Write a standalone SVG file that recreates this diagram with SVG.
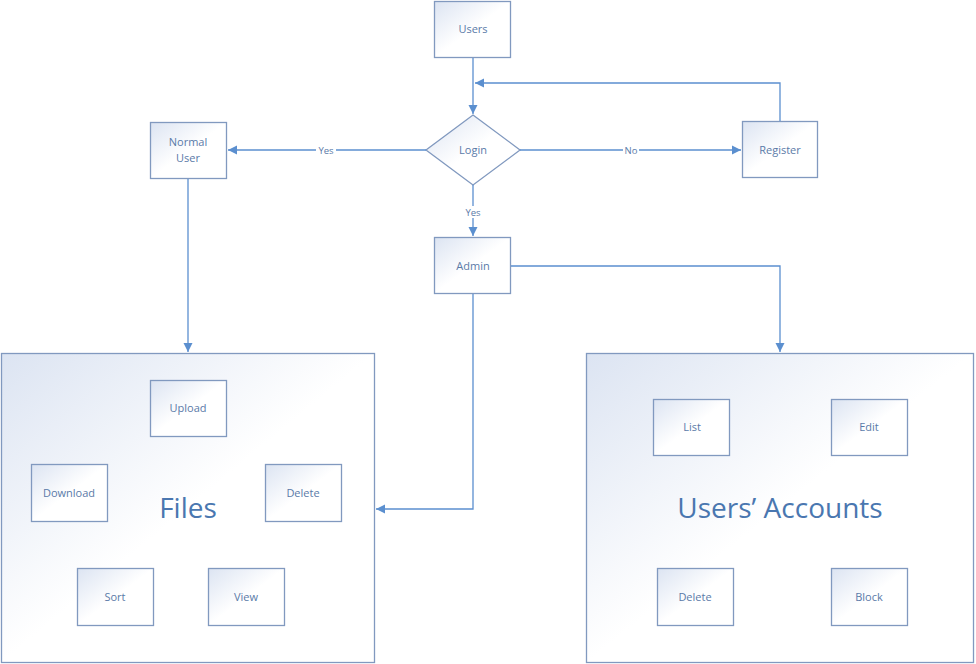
<svg xmlns="http://www.w3.org/2000/svg" width="976" height="664" viewBox="0 0 976 664">
<defs>
<linearGradient id="g" x1="0" y1="0" x2="1" y2="1">
<stop offset="0" stop-color="#dce4f2"/>
<stop offset="0.5" stop-color="#ffffff"/>
<stop offset="1" stop-color="#ffffff"/>
</linearGradient>
<marker id="a" markerWidth="10" markerHeight="10" refX="9" refY="5" orient="auto" markerUnits="userSpaceOnUse">
<path d="M0,0.5 L9,5 L0,9.5 Z" fill="#5b8fcf"/>
</marker>
<style>
.box{fill:url(#g);stroke:#8199bf;stroke-width:1.3}
.t{font-family:"Open Sans","Liberation Sans",sans-serif;font-size:11px;fill:#5a7aa8;text-anchor:middle}
.big{font-family:"Open Sans","Liberation Sans",sans-serif;font-size:28px;fill:#4a77b0;text-anchor:middle}
.c{fill:none;stroke:#5b8fcf;stroke-width:1.3}
.lbl{font-family:"Open Sans","Liberation Sans",sans-serif;font-size:9.5px;fill:#5a7aa8;text-anchor:middle}
</style>
</defs>
<rect width="976" height="664" fill="#ffffff"/>
<g id="files">
<rect class="box" x="1.5" y="353.5" width="373" height="309"/>
<text class="big" x="188" y="518">Files</text>
</g>
<g id="accounts">
<rect class="box" x="586.5" y="353.5" width="387" height="309"/>
<text class="big" x="780" y="518">Users’ Accounts</text>
</g>
<g id="users"><rect class="box" x="434.5" y="1.5" width="76" height="56"/><text class="t" x="473" y="33">Users</text></g>
<g id="login"><polygon points="473,115 520,150 473,185 426,150" fill="url(#g)" stroke="#8199bf" stroke-width="1.3"/><text class="t" x="473" y="154">Login</text></g>
<g id="register"><rect class="box" x="742.5" y="121.5" width="75" height="56"/><text class="t" x="780" y="154">Register</text></g>
<g id="normal"><rect class="box" x="150.5" y="122.5" width="76" height="56"/><text class="t" x="188" y="146">Normal</text><text class="t" x="188" y="162">User</text></g>
<g id="admin"><rect class="box" x="434.5" y="237.5" width="76" height="56"/><text class="t" x="473" y="270">Admin</text></g>
<g id="upload"><rect class="box" x="150.5" y="380.5" width="76" height="56"/><text class="t" x="188" y="412">Upload</text></g>
<g id="download"><rect class="box" x="31.5" y="464.5" width="76" height="57"/><text class="t" x="69" y="497">Download</text></g>
<g id="fdelete"><rect class="box" x="265.5" y="464.5" width="76" height="57"/><text class="t" x="303" y="497">Delete</text></g>
<g id="sort"><rect class="box" x="77.5" y="568.5" width="76" height="57"/><text class="t" x="115" y="601">Sort</text></g>
<g id="view"><rect class="box" x="208.5" y="568.5" width="76" height="57"/><text class="t" x="246" y="601">View</text></g>
<g id="list"><rect class="box" x="653.5" y="399.5" width="76" height="56"/><text class="t" x="692" y="431">List</text></g>
<g id="edit"><rect class="box" x="831.5" y="399.5" width="76" height="56"/><text class="t" x="869" y="431">Edit</text></g>
<g id="adelete"><rect class="box" x="657.5" y="568.5" width="76" height="57"/><text class="t" x="695" y="601">Delete</text></g>
<g id="block"><rect class="box" x="831.5" y="568.5" width="76" height="57"/><text class="t" x="869" y="601">Block</text></g>
<g id="connectors">
<path class="c" d="M473,58 V114" marker-end="url(#a)"/>
<path class="c" d="M780,121 V83 H475" marker-end="url(#a)"/>
<path class="c" d="M426,150 H228" marker-end="url(#a)"/>
<path class="c" d="M520,150 H741" marker-end="url(#a)"/>
<path class="c" d="M473,185 V236" marker-end="url(#a)"/>
<path class="c" d="M188,179 V352" marker-end="url(#a)"/>
<path class="c" d="M473,294 V509 H376" marker-end="url(#a)"/>
<path class="c" d="M511,266 H780 V352" marker-end="url(#a)"/>
<rect x="316" y="144" width="20" height="12" fill="#ffffff"/>
<text class="lbl" x="326" y="153.5">Yes</text>
<rect x="623" y="144" width="16" height="12" fill="#ffffff"/>
<text class="lbl" x="631" y="153.5">No</text>
<rect x="463" y="206" width="20" height="12" fill="#ffffff"/>
<text class="lbl" x="473" y="215.5">Yes</text>
</g>
</svg>
